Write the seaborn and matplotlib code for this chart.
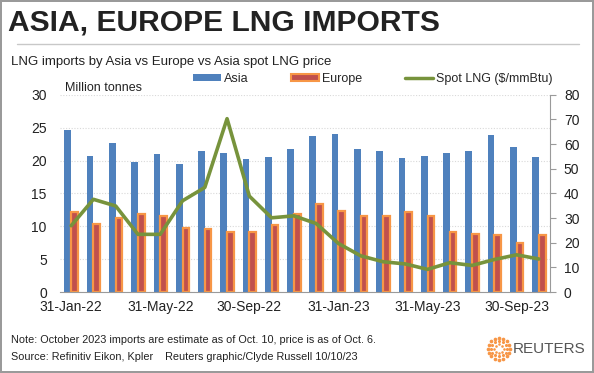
import numpy as np
import pandas as pd
import matplotlib
matplotlib.use("Agg")
import matplotlib.pyplot as plt
import seaborn as sns
from matplotlib.patches import Patch
from matplotlib.lines import Line2D

months = ["31-Jan-22", "28-Feb-22", "31-Mar-22", "30-Apr-22", "31-May-22", "30-Jun-22",
          "31-Jul-22", "31-Aug-22", "30-Sep-22", "31-Oct-22", "30-Nov-22", "31-Dec-22",
          "31-Jan-23", "28-Feb-23", "31-Mar-23", "30-Apr-23", "31-May-23", "30-Jun-23",
          "31-Jul-23", "31-Aug-23", "30-Sep-23", "31-Oct-23"]
asia = [24.7, 20.7, 22.6, 19.8, 21.0, 19.5, 21.4, 21.2, 20.3, 20.6, 21.7,
        23.7, 24.0, 21.7, 21.5, 20.4, 20.7, 21.2, 21.5, 23.9, 22.0, 20.6]
europe = [12.1, 10.4, 11.2, 11.9, 11.5, 9.8, 9.6, 9.2, 9.1, 10.2, 11.9,
          13.4, 12.4, 11.5, 11.5, 12.2, 11.6, 9.1, 8.8, 8.6, 7.5, 8.6]
spot = [26.9, 37.6, 34.9, 23.4, 23.4, 37.0, 42.4, 70.3, 38.9, 30.1, 30.9,
        27.8, 19.7, 14.7, 12.3, 11.4, 9.2, 11.9, 10.8, 13.2, 15.1, 13.4]

BLUE = "#4f81bd"
RED = "#c0504d"
ORANGE = "#f79646"
GREEN = "#77933c"

sns.set_style("white")
plt.rcParams["font.family"] = ["Liberation Sans", "DejaVu Sans"]

df = pd.DataFrame({"month": months * 2,
                   "region": ["Asia"] * len(months) + ["Europe"] * len(months),
                   "value": asia + europe})

fig = plt.figure(figsize=(5.94, 3.73), dpi=100)
fig.patch.set_edgecolor("#9a9a9a")
fig.patch.set_linewidth(1.5)

ax = fig.add_axes([0.101, 0.217, 0.825, 0.529])
sns.barplot(data=df, x="month", y="value", hue="region", order=months,
            palette={"Asia": BLUE, "Europe": RED}, width=0.6, ax=ax,
            legend=False, saturation=1)
for p in ax.patches[len(months):]:
    p.set_edgecolor(ORANGE)
    p.set_linewidth(1.6)
for p in ax.patches[:len(months)]:
    p.set_edgecolor("none")

ax.set_ylim(0, 30)
ax.set_xlim(-0.5, len(months) - 0.5)
ax.set_yticks(range(0, 31, 5))
ax.yaxis.grid(True, color="#d9d9d9", linestyle=(0, (1, 1.5)), linewidth=0.8)
ax.set_axisbelow(True)
ax.set_xlabel("")
ax.set_ylabel("")
ax.set_xticks(range(0, len(months), 4))
ax.set_xticklabels([months[i] for i in range(0, len(months), 4)])
ax.set_xticks(np.arange(-0.5, len(months), 1), minor=True)
ax.tick_params(axis="x", which="major", length=0, labelsize=10, pad=6, colors="#222222")
ax.tick_params(axis="x", which="minor", length=4, color="#9a9a9a", direction="out")
ax.tick_params(axis="y", length=0, labelsize=10, pad=9.5, colors="#222222")
for s in ["left", "top", "right"]:
    ax.spines[s].set_visible(False)
ax.spines["bottom"].set_color("#9a9a9a")

ax2 = ax.twinx()
sns.lineplot(x=np.arange(len(months)), y=spot, color=GREEN, linewidth=2.6, ax=ax2)
ax2.set_ylim(0, 80)
ax2.set_yticks(range(0, 81, 10))
ax2.tick_params(axis="y", length=4, color="#9a9a9a", labelsize=10, colors="#222222", pad=6)
ax2.tick_params(axis="y", color="#9a9a9a")
for s in ["left", "top", "bottom"]:
    ax2.spines[s].set_visible(False)
ax2.spines["right"].set_color("#9a9a9a")
ax2.set_xlim(-0.5, len(months) - 0.5)

fig.text(0.0135, 0.94, "ASIA, EUROPE LNG IMPORTS", fontsize=21.6, fontweight="bold",
         color="#222222", va="center", ha="left")
fig.add_artist(Line2D([0.028, 0.975], [0.882, 0.882], color="#c8c8c8", linewidth=1))
fig.text(0.018, 0.834, "LNG imports by Asia vs Europe vs Asia spot LNG price", fontsize=9.5,
         color="#222222", va="center", ha="left")
fig.text(0.11, 0.763, "Million tonnes", fontsize=9, color="#222222", va="center", ha="left")

handles = [Patch(facecolor=BLUE, edgecolor="none"),
           Patch(facecolor=RED, edgecolor=ORANGE, linewidth=1.5),
           Line2D([0], [0], color=GREEN, linewidth=2.5)]
fig.legend(handles, ["Asia", "Europe", "Spot LNG ($/mmBtu)"], ncol=3, frameon=False,
           loc="center left", bbox_to_anchor=(0.306, 0.788), fontsize=9,
           handlelength=2.2, handleheight=0.5, handletextpad=0.25, columnspacing=3.45)

fig.text(0.018, 0.088, "Note: October 2023 imports are estimate as of Oct. 10, price is as of Oct. 6.",
         fontsize=7.8, color="#222222", va="center", ha="left")
fig.text(0.018, 0.043, "Source: Refinitiv Eikon, Kpler    Reuters graphic/Clyde Russell 10/10/23",
         fontsize=7.8, color="#222222", va="center", ha="left")

# reuters logo
fig.text(0.985, 0.065, "REUTERS", fontsize=11, color="#555555", va="center", ha="right")
lax = fig.add_axes([0.81, 0.03, 0.06, 0.07])
lax.set_aspect("equal")
lax.axis("off")
for r, n, sz in [(1.0, 16, 7), (0.7, 12, 5), (0.42, 8, 3.5)]:
    ang = np.linspace(0, 2 * np.pi, n, endpoint=False)
    lax.scatter(r * np.cos(ang), r * np.sin(ang), s=sz, color=ORANGE, linewidths=0)
lax.set_xlim(-1.2, 1.2)
lax.set_ylim(-1.2, 1.2)

fig.savefig("out.png", dpi=100)
